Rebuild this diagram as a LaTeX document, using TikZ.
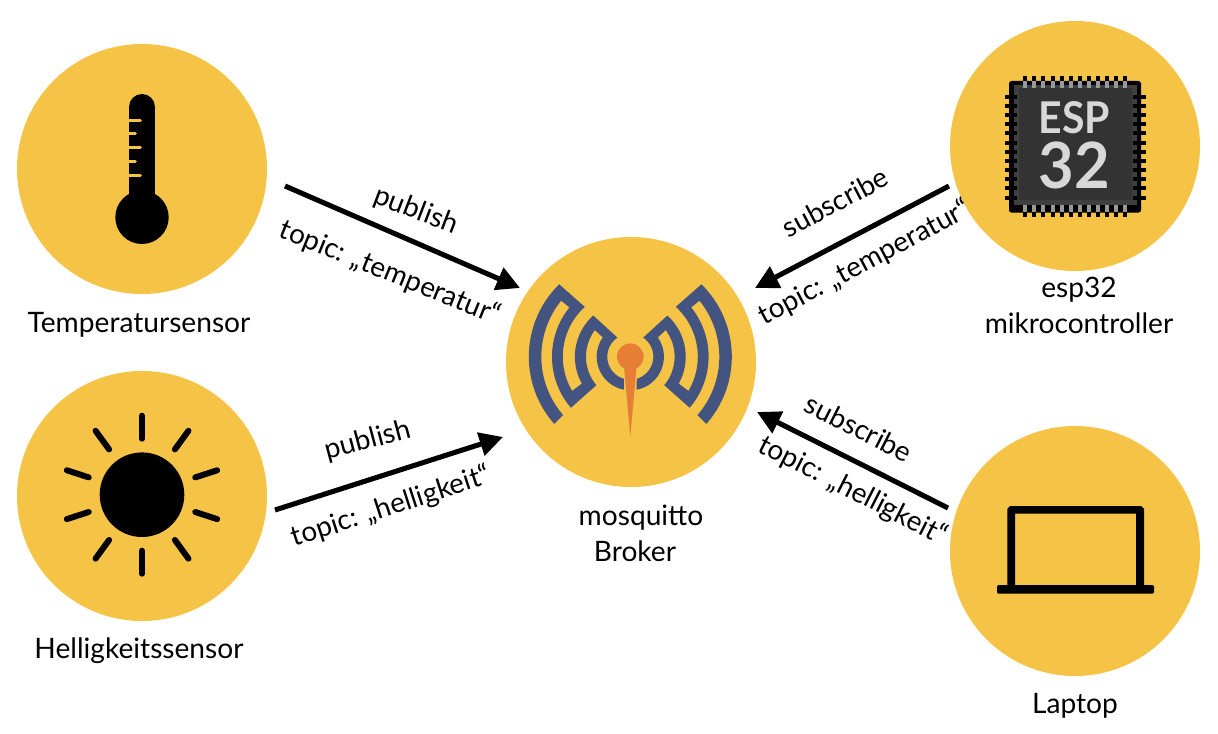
\documentclass[tikz,border=0pt]{standalone}
\usepackage{fontspec}
\setmainfont{Lato}
\usetikzlibrary{arrows.meta}
\definecolor{disc}{HTML}{F5C346}
\definecolor{logoblue}{HTML}{435480}
\definecolor{logoorange}{HTML}{E67E36}
\definecolor{chipgrey}{HTML}{333333}
\definecolor{chipedge}{HTML}{3F3F3F}
\definecolor{pin}{HTML}{C4C4C4}
\definecolor{chiptext}{HTML}{D8D8D8}
\tikzset{
  disccircle/.style={circle,fill=disc,minimum size=250*0.75pt,inner sep=0pt},
  lbl/.style={inner sep=0pt,font=\fontsize{21.1pt}{24pt}\selectfont,text=black},
  alabel/.style={inner sep=0pt,font=\fontsize{20.9pt}{24pt}\selectfont,text=black},
  flow/.style={line width=3.8pt,-{Triangle[length=17.5pt,width=17.5pt]}},
  sunray/.style={line width=4.5pt,line cap=round},
  tick/.style={line width=2.4pt,line cap=round,disc},
  pinmark/.style={line width=3pt,pin},
  an/.style 2 args={domain=#1:#2,samples=40,variable=\t},
}
\def\antenna{%
  \fill[logoblue] plot[an={138.5}{225.5}] ({101.5*cos(\t)},{101.5*sin(\t)})
    -- plot[an={227.6}{149.5}] ({67.5*cos(\t)},{67.5*sin(\t)})
    -- plot[an={151}{228}] ({55.4*cos(\t)},{55.4*sin(\t)})
    -- plot[an={236}{106.3}] ({23*cos(\t)},{23*sin(\t)})
    -- plot[an={101}{215}] ({33.6*cos(\t)},{33.6*sin(\t)})
    -- plot[an={217}{140}] ({44.3*cos(\t)},{44.3*sin(\t)})
    -- plot[an={139.3}{219}] ({78.3*cos(\t)},{78.3*sin(\t)})
    -- plot[an={219}{139}] ({89*cos(\t)},{89*sin(\t)}) -- cycle;}
\begin{document}
\begin{tikzpicture}[x=0.75pt,y=-0.75pt]
\useasboundingbox (0,0) rectangle (1218,734);
% discs
\node[disccircle] (temp) at (142,169) {};
\node[disccircle] (hell) at (142,496) {};
\node[disccircle] (brok) at (631,362) {};
\node[disccircle] (esp) at (1075,146) {};
\node[disccircle] (lap) at (1075,551) {};
% thermometer
\fill[black] (142,107) circle[radius=13];
\fill[black] (129,107) rectangle (155,200);
\fill[black] (142,217.3) circle[radius=26.7];
\foreach \yy/\xx in {120.3/140.3,133.7/135.3,147.7/140.3,161.7/135.3,175.3/140.3}
  \draw[tick] (127,\yy) -- (\xx,\yy);
% sun
\fill[black] (142,494.7) circle[radius=42.3];
\foreach \a in {18,54,...,342}
  \draw[sunray] ({142+56*cos(\a)},{494.7+56*sin(\a)}) -- ({142+79*cos(\a)},{494.7+79*sin(\a)});
% laptop
\fill[black,even odd rule] (1007.3,590) -- (1007.3,509) -- (1010,506) -- (1141,506) -- (1144,509) -- (1144,590) -- cycle
  (1015,513.7) rectangle (1136,590);
\fill[black,rounded corners=1pt] (997,585) rectangle (1154,593.7);
% chip
\foreach \i in {0,...,11}{
  \draw[pinmark] ({1025.3+9.09*\i},76) -- ({1025.3+9.09*\i},88.3);
  \draw[pinmark] ({1025.3+9.09*\i},205) -- ({1025.3+9.09*\i},217.3);
}
\fill[black,rounded corners=2pt] (1009,81) rectangle (1141,212.7);
\fill[chipedge] (1014,85) rectangle (1137,205);
\fill[chipgrey] (1019,88) rectangle (1132,200);
\foreach \i in {0,...,11}{
  \draw[pinmark] (1005,{96.7+9.18*\i}) -- (1017.3,{96.7+9.18*\i});
  \draw[pinmark] (1132.7,{96.7+9.18*\i}) -- (1145.7,{96.7+9.18*\i});
  \draw[pinmark,pin!70!chipgrey] ({1025.3+9.09*\i},81) -- ({1025.3+9.09*\i},88.3);
  \draw[pinmark,pin!70!chipgrey] ({1025.3+9.09*\i},205) -- ({1025.3+9.09*\i},212);
}
\node[inner sep=0pt,text=chiptext] (esptext) at (1074.5,117.5) {\resizebox{53.5pt}{24pt}{\bfseries ESP}};
\node[inner sep=0pt,text=chiptext] (num) at (1074.5,165) {\resizebox{53.5pt}{35pt}{\bfseries 32}};
% mosquitto logo
\begin{scope}[shift={(630.3,356.7)}]
  \antenna
  \begin{scope}[xscale=-1]\antenna\end{scope}
  \fill[logoorange] (-6.3,10) -- (0,80) -- (6.3,10) -- cycle;
  \fill[logoorange] (0,0) circle[radius=13.3];
\end{scope}
% connectors
\coordinate (a1) at (285,186); \coordinate (b1) at (520,288);
\coordinate (a2) at (275,510); \coordinate (b2) at (503,437);
\coordinate (a3) at (949,186); \coordinate (b3) at (755,288);
\coordinate (a4) at (948,508); \coordinate (b4) at (757,412);
\draw[flow] (a1) -- (b1);
\draw[flow] (a2) -- (b2);
\draw[flow] (a3) -- (b3);
\draw[flow] (a4) -- (b4);
% arrow labels
\node[alabel,rotate=-21] (p1) at (416,211) {publish};
\node[alabel,rotate=-22] (t1) at (390,273) {topic: „temperatur“};
\node[alabel,rotate=15] (p2) at (368,441) {publish};
\node[alabel,rotate=18] (t2) at (391,507) {topic: „helligkeit“};
\node[alabel,rotate=28] (s3) at (835,202) {subscribe};
\node[alabel,rotate=28] (t3) at (865,263) {topic: „temperatur“};
\node[alabel,rotate=-27] (s4) at (859,428) {subscribe};
\node[alabel,rotate=-27] (t4) at (853,491) {topic: „helligkeit“};
% names
\node[lbl] (n1) at (139,324.5) {Temperatursensor};
\node[lbl] (n2) at (139,650.5) {Helligkeitssensor};
\node[lbl] (n3) at (641,517.5) {mosquitto};
\node[lbl] (n3b) at (635,551.5) {Broker};
\node[lbl] (n4) at (1079,289.5) {esp32};
\node[lbl] (n4b) at (1079,323.5) {mikrocontroller};
\node[lbl] (n5) at (1075,705.5) {Laptop};
\end{tikzpicture}
\end{document}
